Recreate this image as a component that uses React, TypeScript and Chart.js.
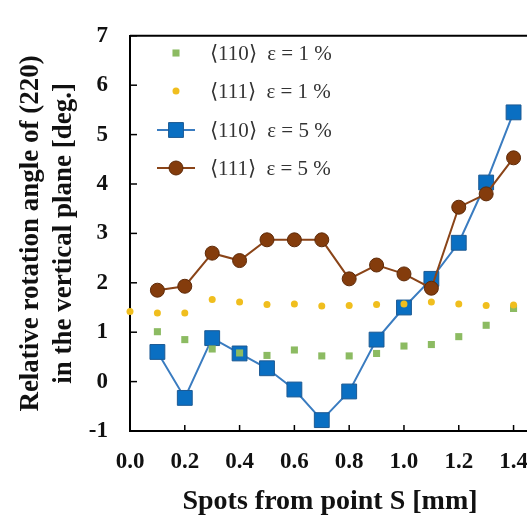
import React, { useEffect, useRef } from "react";
import { Chart, registerables } from "chart.js";
Chart.register(...registerables);

const xSpots = [0.0, 0.1, 0.2, 0.3, 0.4, 0.5, 0.6, 0.7, 0.8, 0.9, 1.0, 1.1, 1.2, 1.3, 1.4];
const green110e1 = [null, 1.01, 0.85, 0.66, 0.58, 0.53, 0.64, 0.52, 0.52, 0.57, 0.72, 0.75, 0.91, 1.14, 1.48];
const yellow111e1 = [1.42, 1.39, 1.39, 1.66, 1.61, 1.56, 1.57, 1.53, 1.54, 1.56, 1.57, 1.61, 1.57, 1.54, 1.55];
const blue110e5 = [null, 0.6, -0.33, 0.88, 0.57, 0.27, -0.16, -0.78, -0.2, 0.85, 1.5, 2.08, 2.81, 4.03, 5.45];
const brown111e5 = [null, 1.85, 1.93, 2.6, 2.45, 2.87, 2.87, 2.87, 2.08, 2.36, 2.18, 1.89, 3.53, 3.8, 4.53];
const legendLabels = ["⟨110⟩  ε = 1 %", "⟨111⟩  ε = 1 %", "⟨110⟩  ε = 5 %", "⟨111⟩  ε = 5 %"];
const xTitle = "Spots from point S [mm]";
const yTitle = ["Relative rotation angle of (220)", "in the vertical plane [deg.]"];

const toPts = (ys: (number | null)[]) =>
  xSpots.map((x, i) => ({ x, y: ys[i] })).filter((p) => p.y !== null);

const SERIF = "'Liberation Serif', 'Times New Roman', serif";
const CANVAS_W = 560;
const CANVAS_H = 517;

const decoPlugin = {
  id: "deco",
  afterDraw(chart: any) {
    const { ctx, chartArea, scales } = chart;
    const xs = scales.x;
    const ys = scales.y;
    ctx.save();
    ctx.strokeStyle = "#000";
    ctx.lineWidth = 2;
    ctx.beginPath();
    ctx.moveTo(chartArea.left, chartArea.top);
    ctx.lineTo(chartArea.right, chartArea.top);
    ctx.stroke();
    ctx.lineWidth = 1.5;
    xs.ticks.forEach((t: any) => {
      const px = xs.getPixelForValue(t.value);
      ctx.beginPath();
      ctx.moveTo(px, chartArea.bottom);
      ctx.lineTo(px, chartArea.bottom - 6);
      ctx.stroke();
    });
    ys.ticks.forEach((t: any) => {
      const py = ys.getPixelForValue(t.value);
      ctx.beginPath();
      ctx.moveTo(chartArea.left, py);
      ctx.lineTo(chartArea.left + 7, py);
      ctx.stroke();
    });
    const ds = chart.data.datasets;
    const rows = [53, 91, 130, 168];
    const symX = 176;
    const textX = 210;
    [0, 1, 2, 3].forEach((di, r) => {
      const d = ds[di];
      const y = rows[r];
      if (d.showLine) {
        ctx.strokeStyle = d.borderColor;
        ctx.lineWidth = 2;
        ctx.beginPath();
        ctx.moveTo(symX - 19, y);
        ctx.lineTo(symX + 19, y);
        ctx.stroke();
      }
      ctx.fillStyle = d.pointBackgroundColor;
      ctx.strokeStyle = d.pointBorderColor;
      ctx.lineWidth = d.pointBorderWidth;
      ctx.beginPath();
      if (d.pointStyle === "rect") {
        const s = Math.SQRT1_2 * d.pointRadius;
        ctx.rect(symX - s, y - s, 2 * s, 2 * s);
      } else {
        ctx.arc(symX, y, d.pointRadius, 0, Math.PI * 2);
      }
      ctx.fill();
      if (d.pointBorderWidth > 0) ctx.stroke();
      ctx.fillStyle = "#333";
      ctx.font = `21px ${SERIF}`;
      ctx.textBaseline = "middle";
      ctx.textAlign = "left";
      ctx.fillText(legendLabels[r], textX, y + 1);
    });
    ctx.restore();
  },
};

export default function App() {
  const ref = useRef<HTMLCanvasElement | null>(null);
  useEffect(() => {
    document.body.style.margin = "0";
    const canvas = ref.current!;
    const chart = new Chart(canvas, {
      type: "scatter",
      data: {
        datasets: [
          {
            label: legendLabels[0],
            data: toPts(green110e1),
            showLine: false,
            pointStyle: "rect",
            pointRadius: 5,
            pointBackgroundColor: "#8cbb62",
            pointBorderColor: "#8cbb62",
            pointBorderWidth: 0,
            borderColor: "#8cbb62",
            order: 1,
            clip: false,
          },
          {
            label: legendLabels[1],
            data: toPts(yellow111e1),
            showLine: false,
            pointStyle: "circle",
            pointRadius: 3.5,
            pointBackgroundColor: "#f0be1e",
            pointBorderColor: "#f0be1e",
            pointBorderWidth: 0,
            borderColor: "#f0be1e",
            order: 0,
            clip: false,
          },
          {
            label: legendLabels[2],
            data: toPts(blue110e5),
            showLine: true,
            borderColor: "#3a7cc0",
            borderWidth: 2,
            pointStyle: "rect",
            pointRadius: 10.5,
            pointBackgroundColor: "#0a6fc2",
            pointBorderColor: "#1d5a93",
            pointBorderWidth: 1,
            order: 3,
            clip: false,
          },
          {
            label: legendLabels[3],
            data: toPts(brown111e5),
            showLine: true,
            borderColor: "#8a4418",
            borderWidth: 2,
            pointStyle: "circle",
            pointRadius: 7,
            pointBackgroundColor: "#843c0c",
            pointBorderColor: "#5e2a08",
            pointBorderWidth: 1,
            order: 2,
            clip: false,
          },
        ] as any,
      },
      options: {
        responsive: false,
        animation: false,
        layout: { padding: { top: 21, right: 30, left: 0, bottom: 0 } },
        plugins: { legend: { display: false }, tooltip: { enabled: false } },
        scales: {
          x: {
            type: "linear",
            min: 0,
            max: 1.46,
            grid: { display: false, drawTicks: false },
            border: { display: true, color: "#000", width: 2 },
            ticks: {
              stepSize: 0.2,
              includeBounds: false,
              padding: 17,
              color: "#111",
              font: { family: SERIF, size: 23, weight: "bold" },
              callback: (v: any) => Number(v).toFixed(1),
              maxRotation: 0,
            },
            title: {
              display: true,
              text: xTitle,
              color: "#111",
              font: { family: SERIF, size: 28, weight: "bold", lineHeight: 1.1 },
              padding: { top: 0, bottom: 0 },
            },
            afterFit: (s: any) => {
              s.height = 86;
            },
          },
          y: {
            type: "linear",
            min: -1,
            max: 7,
            grid: { display: false, drawTicks: false },
            border: { display: true, color: "#000", width: 2 },
            ticks: {
              stepSize: 1,
              padding: 22,
              color: "#111",
              font: { family: SERIF, size: 23, weight: "bold" },
            },
            title: {
              display: true,
              text: yTitle,
              color: "#111",
              font: { family: SERIF, size: 27, weight: "bold", lineHeight: 1.22 },
              padding: { top: 15, bottom: 0 },
            },
            afterFit: (s: any) => {
              s.width = 130;
            },
          },
        },
      } as any,
      plugins: [decoPlugin],
    });
    return () => chart.destroy();
  }, []);
  return (
    <div style={{ width: 527, height: 517, position: "relative", overflow: "hidden", background: "#fff" }}>
      <canvas ref={ref} width={CANVAS_W} height={CANVAS_H} style={{ display: "block" }} />
    </div>
  );
}
